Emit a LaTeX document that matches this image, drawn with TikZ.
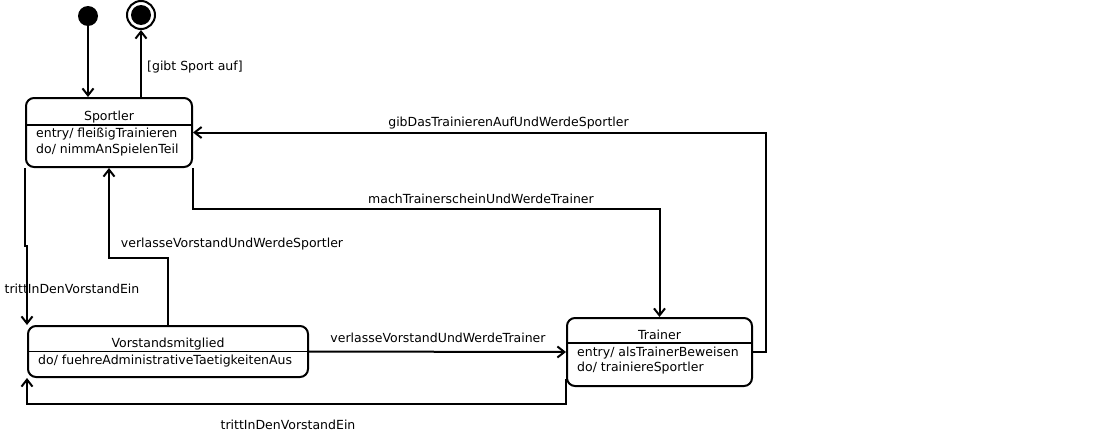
\documentclass[tikz,border=0pt]{standalone}
\usepackage{fontspec}
\setmainfont{DejaVu Sans}
\usetikzlibrary{arrows.meta}

\begin{document}
\begin{tikzpicture}%
        [x=1pt, y=-1pt,
        every node/.style={font=\fontsize{12.5}{16}\selectfont},
        state/.style={draw, rounded corners=8pt, line width=2pt, inner sep=0pt},
        startdot/.style={circle, fill, inner sep=0pt, minimum size=20pt},
        enddot/.style={circle, draw, line width=2pt, inner sep=0pt, minimum size=28pt,
                path picture={\fill (path picture bounding box.center) circle (10pt);}},
        guard/.style={inner sep=0pt, text height=9pt, text depth=0pt},
        body/.style={anchor=base west, align=left, inner sep=0pt},
        move/.style={line width=2pt, -{Straight Barb[length=7pt,width=11pt]}}]

    \useasboundingbox (0,0) rectangle (1099,434);
    %% Pseudo states
    \node[startdot] (init) at (88,16) {};
    \node[enddot] (final) at (141,15) {};
    %%
    %% Drawing the states
    %%
    \node[state, minimum width=166pt, minimum height=69pt] (sportler) at (109,132.5) {};
    \node[state, minimum width=280pt, minimum height=51pt] (vorstand) at (168,351.5) {};
    \node[state, minimum width=185pt, minimum height=68pt] (trainer) at (659.5,352) {};
    \draw[line width=1.8pt] ([yshift=7.5pt]sportler.west) -- ([yshift=7.5pt]sportler.east);
    \draw[line width=1.8pt] (vorstand.west) -- (vorstand.east);
    \draw[line width=1.8pt] ([yshift=8.7pt]trainer.west) -- ([yshift=8.7pt]trainer.east);
    \node[guard] (sportlertitle) at (109,116) {Sportler};
    \node[guard] (vorstandtitle) at (168,343) {Vorstandsmitglied};
    \node[guard] (trainertitle) at (659.5,335) {Trainer};
    \node[body] (sportlerbody) at (36,153) {entry/ fleißigTrainieren\\do/ nimmAnSpielenTeil};
    \node[body] (vorstandbody) at (38,364) {do/ fuehreAdministrativeTaetigkeitenAus};
    \node[body, font=\fontsize{12.5}{15}\selectfont] (trainerbody) at (577,371)
        {entry/ alsTrainerBeweisen\\do/ trainiereSportler};
    %%
    %% Drawing the transitions
    %%
    \draw[move] (init) -- (init |- sportler.north);
    \draw[move] (final |- sportler.north) -- (final);
    \draw[move] (trainer.east) -- ++(13,0) |- (sportler.east);
    \draw[move] (sportler.south east) -- ++(0,41) -| (trainer.north);
    \draw[move] (sportler.south west) -- ++(0,78) -| (vorstand.north west);
    \draw[move] (vorstand.north) -- ++(0,-67) -| (sportler.south);
    \draw[move] (vorstand.east) -- (trainer.west);
    \draw[move] ([yshift=8pt]trainer.south west) -- ++(0,25) -| (vorstand.south west);
    %%
    %% Transition labels
    %%
    \node[guard, anchor=west] (gibtsport) at (147,66) {[gibt Sport auf]};
    \node[guard] (aufgeben) at (508.5,122) {gibDasTrainierenAufUndWerdeSportler};
    \node[guard] (trainerschein) at (481,199) {machTrainerscheinUndWerdeTrainer};
    \node[guard] (zuruecksportler) at (232,243) {verlasseVorstandUndWerdeSportler};
    \node[guard] (eintretenlinks) at (72,289) {trittInDenVorstandEin};
    \node[guard] (zuruecktrainer) at (438,338) {verlasseVorstandUndWerdeTrainer};
    \node[guard] (eintretenunten) at (288,425) {trittInDenVorstandEin};
    %%
\end{tikzpicture}
\end{document}
